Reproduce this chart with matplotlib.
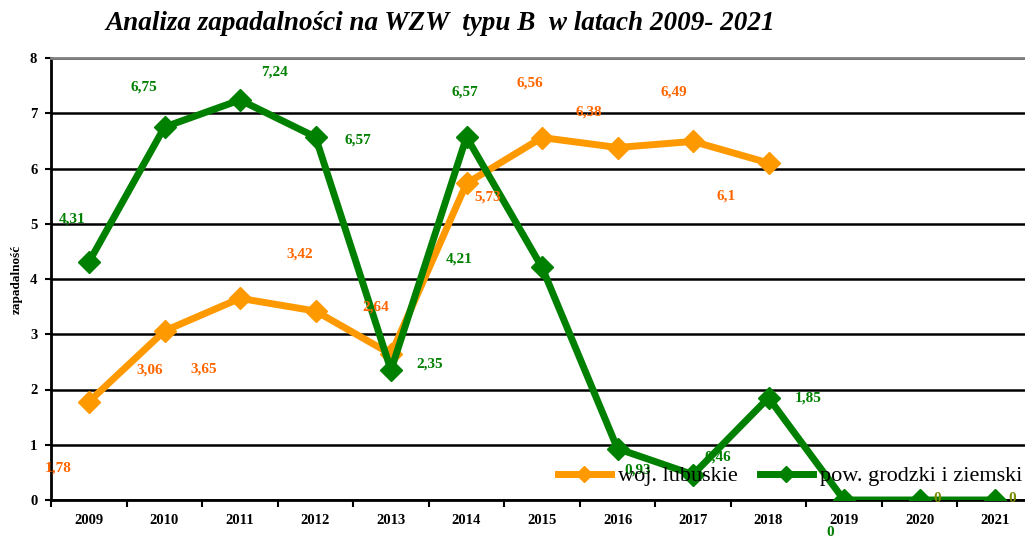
import matplotlib.pyplot as plt

years = ['2009', '2010', '2011', '2012', '2013', '2014', '2015',
         '2016', '2017', '2018', '2019', '2020', '2021']
lubuskie = [1.78, 3.06, 3.65, 3.42, 2.64, 5.73, 6.56, 6.38, 6.49, 6.1]
powiat = [4.31, 6.75, 7.24, 6.57, 2.35, 6.57, 4.21, 0.93, 0.46, 1.85, 0, 0, 0]

# label offsets from the point, in pixels (dx, dy up)
off_lub = [(-31, -66), (-15, -39), (-36, -71), (-16, 57), (-15, 47),
           (21, -14), (-12, 55), (-29, 35), (-19, 49), (-42, -33)]
off_pow = [(-17, 43), (-21, 40), (34, 28), (42, -3), (39, 6), (-2, 45),
           (-83, 8), (20, -21), (25, 18), (40, 0), (-14, -33), (18, 2), (17, 2)]

ORANGE = '#ff9900'
ORANGE_TXT = '#ff6600'
GREEN = '#008000'
OLIVE = '#7a8c00'

plt.rcParams['font.family'] = ['Liberation Serif', 'DejaVu Serif']

fig = plt.figure(figsize=(10.25, 5.39), dpi=100)
ax = fig.add_axes([51.25 / 1025, 39 / 539, 981.5 / 1025, 442 / 539])

x = list(range(len(years)))
ax.plot(x[:len(lubuskie)], lubuskie, color=ORANGE, lw=5, marker='D', ms=11,
        label='woj. lubuskie', zorder=3)
ax.plot(x, powiat, color=GREEN, lw=5, marker='D', ms=11,
        label='pow. grodzki i ziemski', zorder=3)

for i, v in enumerate(lubuskie):
    ax.annotate(str(v).replace('.', ','), (i, v), xytext=off_lub[i],
                textcoords='offset pixels', ha='center', va='center',
                color=ORANGE_TXT, fontsize=11, fontweight='bold', zorder=4)
for i, v in enumerate(powiat):
    c = OLIVE if i >= 11 else GREEN
    ax.annotate(str(v).replace('.', ','), (i, v), xytext=off_pow[i],
                textcoords='offset pixels', ha='center', va='center',
                color=c, fontsize=11, fontweight='bold', zorder=4,
                annotation_clip=False)

ax.set_xlim(-0.5, len(years) - 0.5)
ax.set_ylim(0, 8)
ax.set_yticks(range(0, 9))
ax.set_xticks(x)
ax.set_xticklabels(years)
ax.set_xticks([i - 0.5 for i in range(len(years) + 1)], minor=True)
ax.tick_params(axis='x', which='major', length=0, pad=10)
ax.tick_params(axis='x', which='minor', length=5, width=1.5, direction='out')
ax.tick_params(axis='y', length=4, width=1.5, direction='out', pad=6)
for lab in ax.get_xticklabels() + ax.get_yticklabels():
    lab.set_fontweight('bold')
    lab.set_fontsize(10.5)

ax.grid(axis='y', color='black', lw=1.8, zorder=1)
ax.spines['right'].set_visible(False)
ax.spines['top'].set_color('#808080')
ax.spines['top'].set_linewidth(2)
ax.spines['left'].set_linewidth(2)
ax.spines['bottom'].set_linewidth(2)

ax.set_ylabel('zapadalność', fontsize=9.5, fontweight='bold')
ax.yaxis.set_label_coords(-0.029, 0.5)

ax.legend(loc='center right', bbox_to_anchor=(1022 / 1025, 63 / 539),
          bbox_transform=fig.transFigure, ncol=2, frameon=False, fontsize=16,
          handlelength=2.4, handletextpad=0.3, columnspacing=1.0,
          borderpad=0, borderaxespad=0, numpoints=1, markerscale=0.75)

fig.text(440 / 1025, 1 - 23 / 539,
         'Analiza zapadalności na WZW  typu B  w latach 2009- 2021',
         ha='center', va='center', fontsize=19.5, fontweight='bold',
         fontstyle='italic')

fig.savefig('out.png', dpi=100)
